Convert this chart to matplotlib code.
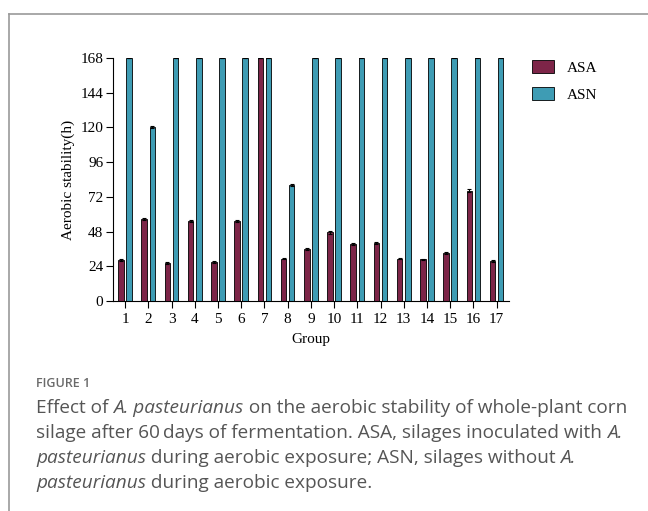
import matplotlib
matplotlib.use("Agg")
import matplotlib.pyplot as plt
from matplotlib.lines import Line2D
import numpy as np

groups = list(range(1, 18))
asa = [28.3, 56.7, 26.3, 55.3, 27.0, 55.3, 168, 29.3, 36.2, 47.4, 39.2, 40.3, 29.3, 28.7, 33.3, 76.3, 27.8]
asn = [168, 120.3, 168, 168, 168, 168, 168, 80.4, 168, 168, 168, 168, 168, 168, 168, 168, 168]
asa_err = [0.8, 0.9, 0.6, 0.7, 0.6, 0.7, 0, 0.6, 0.7, 0.8, 0.7, 0.8, 0.6, 0.6, 0.7, 0.9, 0.6]
asn_err = [0, 0.9, 0, 0, 0, 0, 0, 0.8, 0, 0, 0, 0, 0, 0, 0, 0, 0]
yticks = [0, 24, 48, 72, 96, 120, 144, 168]

c_asa = "#7d2548"
c_asn = "#3e9cb4"

plt.rcParams["font.family"] = ["Liberation Serif", "DejaVu Serif"]

fig = plt.figure(figsize=(6.48, 5.11), dpi=100)
ax = fig.add_axes([0.1744, 0.411, 0.6106, 0.4755])

x = np.array(groups)
w = 0.24
off = 0.175
ekw = dict(elinewidth=0.8, capsize=1.5, capthick=0.8, ecolor="black")
ax.bar(x - off, asa, w, color=c_asa, edgecolor="black", linewidth=0.6,
       yerr=asa_err, error_kw=ekw, label="ASA")
ax.bar(x + off, asn, w, color=c_asn, edgecolor="black", linewidth=0.6,
       yerr=asn_err, error_kw=ekw, label="ASN")

ax.set_xlim(0.48, 17.52)
ax.set_ylim(0, 168)
ax.set_xticks(groups)
ax.set_yticks(yticks)
ax.tick_params(labelsize=11, length=5, width=0.8, color="black", pad=2)
ax.tick_params(axis="x", pad=3.5)
for s in ["top", "right"]:
    ax.spines[s].set_visible(False)
for s in ["left", "bottom"]:
    ax.spines[s].set_linewidth(0.8)
ax.set_ylabel("Aerobic stability(h)", fontsize=11, labelpad=4)
ax.set_xlabel("Group", fontsize=11, labelpad=5)

leg = fig.legend(loc="upper left", bbox_to_anchor=(0.80, 0.91), frameon=False,
                 fontsize=11, handlelength=1.45, handleheight=0.95, handletextpad=0.8,
                 labelspacing=0.8)

# figure frame
fig.add_artist(Line2D([9 / 648, 9 / 648], [0, 1 - 14 / 511], color="#9a9a9a", lw=1.2,
                      transform=fig.transFigure))
fig.add_artist(Line2D([9 / 648, 1], [1 - 14 / 511, 1 - 14 / 511], color="#9a9a9a", lw=1.2,
                      transform=fig.transFigure))

# caption
cap_font = ["Open Sans", "DejaVu Sans"]
fig.text(36 / 648, 1 - 383 / 511, "FIGURE 1", family=cap_font, fontsize=9,
         color="#6a6a6a", va="center", weight="semibold")

lines = [
    [("Effect of ", False), ("A. pasteurianus", True), (" on the aerobic stability of whole-plant corn", False)],
    [("silage after 60\u2009days of fermentation. ASA, silages inoculated with ", False), ("A.", True)],
    [("pasteurianus", True), (" during aerobic exposure; ASN, silages without ", False), ("A.", True)],
    [("pasteurianus", True), (" during aerobic exposure.", False)],
]
fig.canvas.draw()
r = fig.canvas.get_renderer()
y0 = 408
for i, segs in enumerate(lines):
    xp = 36
    for txt, it in segs:
        t = fig.text(xp / 648, 1 - (y0 + i * 25) / 511, txt, family=cap_font, fontsize=13.7,
                     color="#555555", va="center", style="italic" if it else "normal")
        bb = t.get_window_extent(renderer=r)
        xp += bb.width

fig.savefig("out.png", dpi=100)
